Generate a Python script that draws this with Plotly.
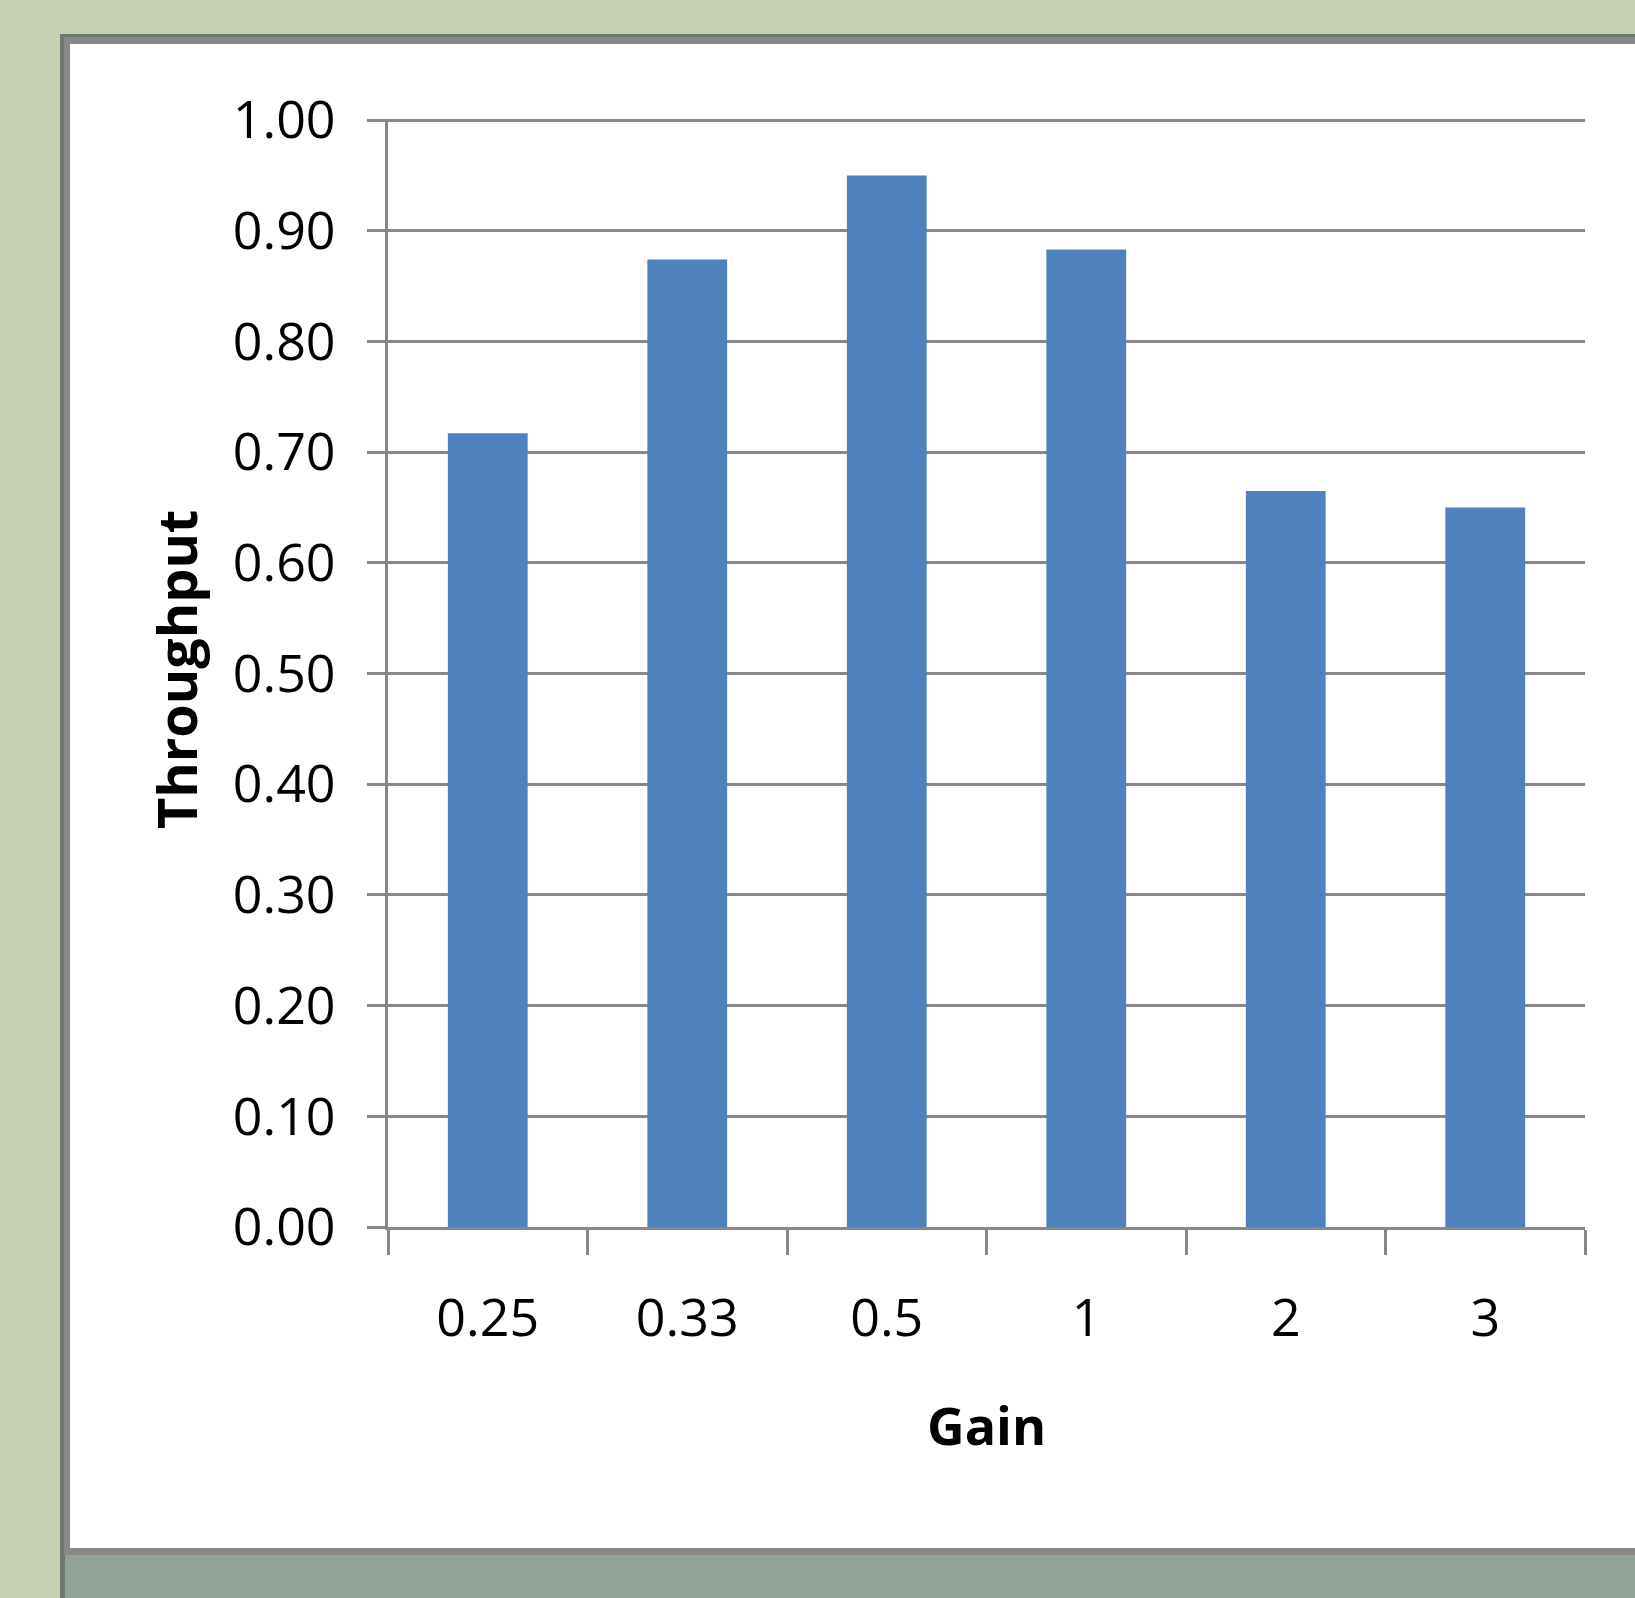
import plotly.graph_objects as go

gain_labels = ["0.25", "0.33", "0.5", "1", "2", "3"]
throughput = [0.717, 0.874, 0.950, 0.883, 0.665, 0.650]
y_ticks = [0.0, 0.1, 0.2, 0.3, 0.4, 0.5, 0.6, 0.7, 0.8, 0.9, 1.0]

W, H = 1635, 1598
L, R, T, B = 388, 1585, 119, 1227  # plot area in pixels
PW, PH = R - L, B - T
YMAX = 1.001

def px(x):
    return (x - L) / PW

def py(y):
    return (B - y) / PH

fig = go.Figure()
fig.add_trace(go.Bar(
    x=gain_labels, y=throughput,
    marker=dict(color="#4F81BD", line=dict(width=0)),
    hoverinfo="skip",
))

FONT = "Open Sans"
GRID = "#888888"

shapes = [
    dict(type="rect", xref="paper", yref="paper", x0=px(60), x1=px(1700), y0=py(34), y1=py(1700),
         fillcolor="#6C7A70", line=dict(width=0), layer="below"),
    dict(type="rect", xref="paper", yref="paper", x0=px(64), x1=px(1700), y0=py(37), y1=py(1555),
         fillcolor="#888888", line=dict(width=0), layer="below"),
    dict(type="rect", xref="paper", yref="paper", x0=px(70), x1=px(1700), y0=py(44), y1=py(1548),
         fillcolor="#FFFFFF", line=dict(width=0), layer="below"),
    dict(type="rect", xref="paper", yref="paper", x0=px(65), x1=px(1700), y0=py(1555), y1=py(1700),
         fillcolor="#91A298", line=dict(width=0), layer="below"),
]

fig.update_layout(
    width=W, height=H,
    margin=dict(l=L, r=W - R, t=T, b=H - B, pad=0),
    paper_bgcolor="#C6D0B4",
    plot_bgcolor="rgba(0,0,0,0)",
    bargap=0.6,
    showlegend=False,
    shapes=shapes,
    font=dict(family=FONT, color="#000000"),
    annotations=[
        dict(text="<b>Throughput</b>", xref="paper", yref="paper", x=px(176), y=py(670),
             xanchor="center", yanchor="middle", textangle=-90, showarrow=False,
             font=dict(family=FONT, size=54, color="#000000")),
        dict(text="<b>Gain</b>", xref="paper", yref="paper", x=px(986), y=py(1424),
             xanchor="center", yanchor="middle", showarrow=False,
             font=dict(family=FONT, size=52, color="#000000")),
    ],
)

fig.update_xaxes(
    type="category",
    showline=True, linecolor=GRID, linewidth=3,
    ticks="outside", tickson="boundaries", ticklen=25, tickwidth=3, tickcolor=GRID,
    showgrid=False,
    tickfont=dict(family=FONT, size=52, color="#000000"),
    ticklabelstandoff=44,
)
fig.update_yaxes(
    range=[0, YMAX], tickvals=y_ticks, tickformat=".2f",
    showline=True, linecolor=GRID, linewidth=3,
    ticks="outside", ticklen=18, tickwidth=3, tickcolor=GRID,
    showgrid=True, gridcolor=GRID, gridwidth=3,
    zeroline=False,
    tickfont=dict(family=FONT, size=52, color="#000000"),
    ticklabelstandoff=21,
)

fig.write_html(
    "out.html",
    config={"displayModeBar": False},
    post_script="document.body.style.margin='0';document.body.style.padding='0';document.body.style.overflow='hidden';",
)
